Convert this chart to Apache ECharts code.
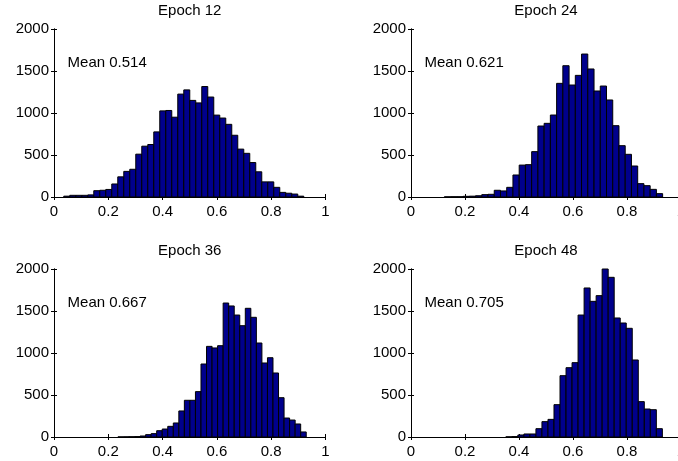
<!DOCTYPE html>
<html>
<head>
<meta charset="utf-8">
<script src="https://cdn.jsdelivr.net/npm/echarts@6/dist/echarts.min.js"></script>
<style>
  html, body { margin: 0; padding: 0; background: #fff; }
  #main { width: 678px; height: 461px; }
</style>
</head>
<body>
<div id="main"></div>
<script>
// histogram counts per bin, 40 bins per epoch
var titles = ["Epoch 12", "Epoch 24", "Epoch 36", "Epoch 48"];
var means = ["Mean 0.514", "Mean 0.621", "Mean 0.667", "Mean 0.705"];
var binStart = [0.036, 0.008, 0.113, 0.039];
var binWidth = [0.0221, 0.0231, 0.0204, 0.0223];

var counts12 = [10, 20, 20, 20, 25, 75, 80, 90, 155, 240, 305, 330, 510, 605, 625, 775, 1025, 1030, 950, 1225,
                1275, 1150, 1120, 1315, 1190, 975, 940, 865, 735, 570, 520, 410, 300, 180, 180, 115, 55, 45, 35, 10];
var counts24 = [0, 0, 0, 0, 0, 2, 3, 3, 8, 10, 15, 28, 32, 80, 72, 115, 262, 380, 385, 540,
                845, 877, 976, 1353, 1563, 1333, 1448, 1702, 1524, 1262, 1321, 1155, 849, 611, 508, 369, 159, 135, 91, 40];
var counts36 = [0, 0, 0, 0, 0, 0, 1, 2, 3, 5, 12, 28, 40, 75, 95, 127, 167, 310, 437, 437,
                540, 869, 1079, 1060, 1087, 1595, 1560, 1452, 1325, 1532, 1425, 1119, 881, 944, 762, 468, 226, 202, 155, 60];
var counts48 = [0, 0, 0, 0, 0, 0, 0, 0, 0, 0, 0, 0, 0, 0, 2, 5, 24, 36, 36, 99,
                183, 210, 385, 730, 825, 885, 1452, 1774, 1615, 1683, 2000, 1901, 1417, 1357, 1294, 917, 421, 333, 325, 99];
var allCounts = [counts12, counts24, counts36, counts48];

var xTicks = [0, 0.2, 0.4, 0.6, 0.8, 1];
var yTicks = [0, 500, 1000, 1500, 2000];
var meanPos = [0.05, 1600];

var FONT = "'Liberation Sans', Arial, Helvetica, sans-serif";
var grids = [
  { left: 54, top: 29, width: 271.5, height: 168, outerBoundsMode: "none" },
  { left: 411, top: 29, width: 270, height: 168, outerBoundsMode: "none" },
  { left: 54, top: 269, width: 271.5, height: 168, outerBoundsMode: "none" },
  { left: 411, top: 269, width: 270, height: 168, outerBoundsMode: "none" }
];

var chart = echarts.init(document.getElementById("main"));

var xAxes = [], yAxes = [], series = [], graphics = [];
for (var g = 0; g < 4; g++) {
  var lbl = { color: "#000", fontSize: 15, fontFamily: FONT };
  // bottom and top x axes (box style)
  xAxes.push({
    type: "value", gridIndex: g, min: 0, max: 1, interval: 0.2, position: "bottom",
    axisLine: { lineStyle: { color: "#000", width: 1 } },
    axisTick: { inside: true, length: 3, lineStyle: { color: "#000" } },
    axisLabel: Object.assign({ margin: 7, formatter: function (v) { return String(+v.toFixed(1)); } }, lbl),
    splitLine: { show: false }
  });
  xAxes.push({
    type: "value", gridIndex: g, min: 0, max: 1, interval: 0.2, position: "top",
    axisLine: { lineStyle: { color: "#000", width: 1 } },
    axisTick: { inside: true, length: 3, lineStyle: { color: "#000" } },
    axisLabel: { show: false }, splitLine: { show: false }
  });
  yAxes.push({
    type: "value", gridIndex: g, min: 0, max: 2000, interval: 500, position: "left",
    axisLine: { show: true, lineStyle: { color: "#000", width: 1 } },
    axisTick: { show: true, inside: true, length: 3, lineStyle: { color: "#000" } },
    axisLabel: Object.assign({ margin: 5, formatter: function (v) { return String(v); } }, lbl),
    splitLine: { show: false }
  });
  yAxes.push({
    type: "value", gridIndex: g, min: 0, max: 2000, interval: 500, position: "right",
    axisLine: { show: true, lineStyle: { color: "#000", width: 1 } },
    axisTick: { show: true, inside: true, length: 3, lineStyle: { color: "#000" } },
    axisLabel: { show: false }, splitLine: { show: false }
  });

  var data = [];
  var c = allCounts[g];
  for (var i = 0; i < c.length; i++) {
    data.push([binStart[g] + i * binWidth[g], binStart[g] + (i + 1) * binWidth[g], c[i]]);
  }
  series.push({
    type: "custom", xAxisIndex: g * 2, yAxisIndex: g * 2, silent: true, z: 1,
    encode: { x: [0, 1], y: 2 },
    data: data,
    renderItem: function (params, api) {
      if (api.value(2) <= 0) return null;
      var p0 = api.coord([api.value(0), api.value(2)]);
      var p1 = api.coord([api.value(1), 0]);
      return {
        type: "rect",
        shape: { x: p0[0], y: p0[1], width: p1[0] - p0[0], height: p1[1] - p0[1] },
        style: { fill: "#00008C", stroke: "#000", lineWidth: 1 }
      };
    }
  });
  series.push({
    type: "custom", xAxisIndex: g * 2, yAxisIndex: g * 2, silent: true, z: 3,
    data: [[meanPos[0], meanPos[1], g]],
    renderItem: function (params, api) {
      var p = api.coord([api.value(0), api.value(1)]);
      return {
        type: "text", x: p[0], y: p[1],
        style: { text: means[api.value(2)], fill: "#000", font: "15px " + FONT,
                 align: "left", verticalAlign: "middle" }
      };
    }
  });

  graphics.push({
    type: "text", x: grids[g].left + grids[g].width / 2, y: grids[g].top - 18,
    style: { text: titles[g], fill: "#000", font: "15px " + FONT,
             align: "center", verticalAlign: "middle", textAlign: "center", textVerticalAlign: "middle" }
  });
}

chart.setOption({
  animation: false,
  backgroundColor: "#fff",
  grid: grids,
  xAxis: xAxes,
  yAxis: yAxes,
  series: series,
  graphic: graphics
});
</script>
</body>
</html>
